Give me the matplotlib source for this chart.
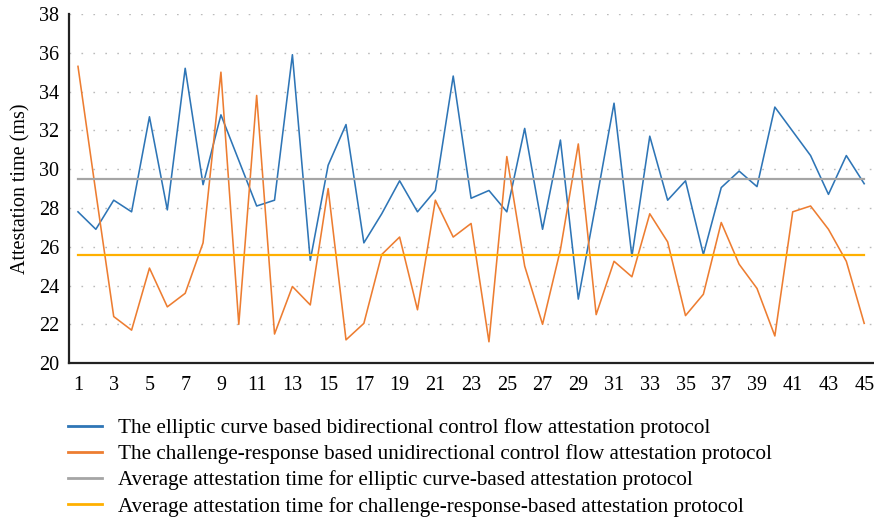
import matplotlib
matplotlib.use("Agg")
import matplotlib.pyplot as plt

runs = list(range(1, 46))

elliptic = [27.8, 26.9, 28.4, 27.8, 32.7, 27.9, 35.2, 29.2, 32.8, 30.45,
            28.1, 28.4, 35.9, 25.3, 30.2, 32.3, 26.2, 27.7, 29.4, 27.8,
            28.9, 34.8, 28.5, 28.9, 27.8, 32.1, 26.9, 31.5, 23.3, 28.3,
            33.4, 25.5, 31.7, 28.4, 29.4, 25.6, 29.05, 29.9, 29.1, 33.2,
            31.95, 30.7, 28.7, 30.7, 29.25]

challenge = [35.3, 28.8, 22.4, 21.7, 24.9, 22.9, 23.6, 26.2, 35.0, 22.0,
             33.8, 21.5, 23.95, 23.0, 29.0, 21.2, 22.05, 25.6, 26.5, 22.75,
             28.4, 26.5, 27.2, 21.1, 30.65, 25.0, 22.0, 25.85, 31.3, 22.5,
             25.25, 24.45, 27.7, 26.25, 22.45, 23.55, 27.25, 25.1, 23.85, 21.4,
             27.8, 28.1, 26.9, 25.25, 22.05]

avg_elliptic = 29.5
avg_challenge = 25.55

labels = [
    "The elliptic curve based bidirectional control flow attestation protocol",
    "The challenge-response based unidirectional control flow attestation protocol",
    "Average attestation time for elliptic curve-based attestation protocol",
    "Average attestation time for challenge-response-based attestation protocol",
]

plt.rcParams['font.family'] = ['Liberation Serif', 'DejaVu Serif']

fig = plt.figure(figsize=(8.74, 5.18), dpi=100)
ax = fig.add_axes([0.079, 0.299, 0.92, 0.674])

ax.plot(runs, elliptic, color='#2E75B6', lw=1.15, label=labels[0])
ax.plot(runs, challenge, color='#ED7D31', lw=1.15, label=labels[1])
ax.plot(runs, [avg_elliptic] * len(runs), color='#A5A5A5', lw=1.6, label=labels[2])
ax.plot(runs, [avg_challenge] * len(runs), color='#FFB000', lw=1.6, label=labels[3])

ax.set_xlim(0.5, 45.5)
ax.set_ylim(20, 38)
ax.set_yticks(range(20, 39, 2))
ax.set_xticks(range(1, 46, 2))
ax.tick_params(length=0, labelsize=14.5)
ax.tick_params(axis='x', pad=9)
ax.tick_params(axis='y', pad=7)
ax.set_ylabel("Attestation time (ms)", fontsize=14.5, labelpad=6)

# dotted horizontal grid
ax.yaxis.grid(True, color='#BBBBBB', lw=1.0, linestyle=(0, (1.2, 7.4)))
ax.set_axisbelow(True)

for s in ['top', 'right']:
    ax.spines[s].set_visible(False)
for s in ['left', 'bottom']:
    ax.spines[s].set_linewidth(1.6)
    ax.spines[s].set_color('#222222')

leg = fig.legend(loc='upper left', bbox_to_anchor=(0.078, 0.193), frameon=False,
                 fontsize=15.2, handlelength=1.6, handletextpad=0.78, labelspacing=0.3,
                 borderpad=0, borderaxespad=0)
for line in leg.get_lines():
    line.set_linewidth(2.0)

fig.savefig("out.png", dpi=100)
